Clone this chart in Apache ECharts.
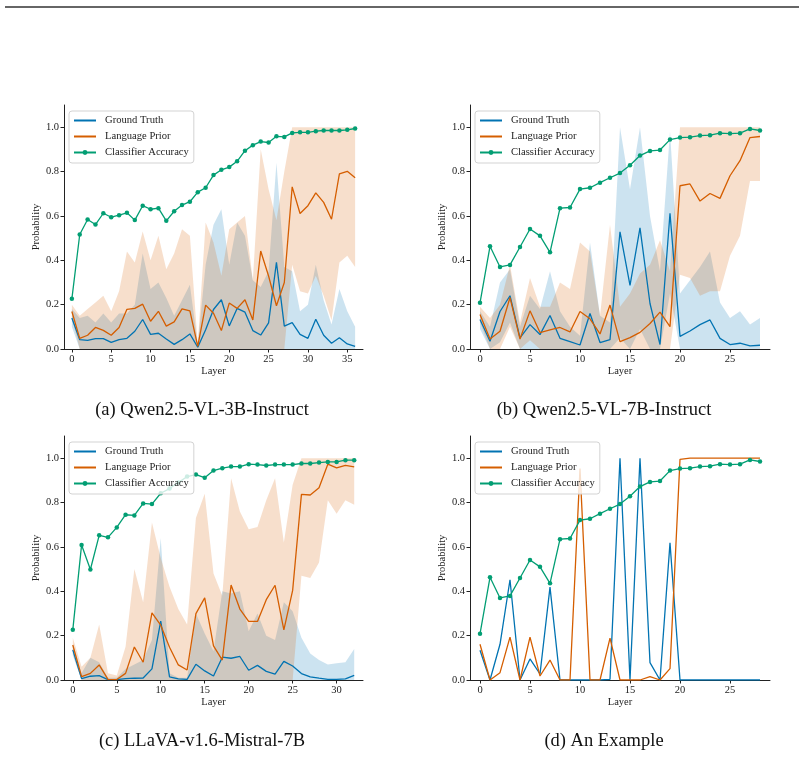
<!DOCTYPE html>
<html>
<head>
<meta charset="utf-8">
<script src="https://cdn.jsdelivr.net/npm/echarts@6/dist/echarts.min.js"></script>
<style>
html, body { margin: 0; padding: 0; background: #fff; }
#chart { width: 804px; height: 757px; }
</style>
</head>
<body>
<div id="chart"></div>
<script>
// ---- data (layer index = position in array) ----
var names = ['Ground Truth', 'Language Prior', 'Classifier Accuracy'];
var captions = ['(a) Qwen2.5-VL-3B-Instruct', '(b) Qwen2.5-VL-7B-Instruct', '(c) LLaVA-v1.6-Mistral-7B', '(d) An Example'];
var yTicks = [0, 0.2, 0.4, 0.6, 0.8, 1.0];
var xTicksA = [0, 5, 10, 15, 20, 25, 30, 35];
var xTicksB = [0, 5, 10, 15, 20, 25];
var xTicksC = [0, 5, 10, 15, 20, 25, 30];

// (a) Qwen2.5-VL-3B
var aAcc = [0.226,0.516,0.584,0.561,0.612,0.594,0.603,0.614,0.581,0.646,0.630,0.635,0.578,0.621,0.649,0.664,0.707,0.727,0.784,0.808,0.820,0.846,0.894,0.919,0.935,0.931,0.959,0.956,0.974,0.977,0.977,0.982,0.985,0.985,0.985,0.988,0.994];
var aGT = [0.140,0.042,0.039,0.047,0.047,0.030,0.042,0.048,0.080,0.133,0.066,0.071,0.045,0.021,0.042,0.068,0.008,0.087,0.178,0.222,0.104,0.183,0.166,0.083,0.063,0.118,0.391,0.103,0.119,0.066,0.048,0.134,0.062,0.026,0.051,0.023,0.012];
var aLP = [0.169,0.048,0.062,0.097,0.084,0.062,0.097,0.179,0.183,0.202,0.125,0.170,0.103,0.122,0.181,0.172,0.012,0.198,0.161,0.083,0.207,0.183,0.222,0.131,0.442,0.329,0.195,0.300,0.731,0.611,0.646,0.704,0.661,0.585,0.789,0.801,0.772];
var aGTlo = [0.10,0,0,0,0,0,0,0,0,0,0,0,0,0,0,0,0,0,0,0,0,0,0,0,0,0,0,0,0,0,0,0,0,0,0,0,0];
var aGThi = [0.18,0.14,0.15,0.12,0.16,0.12,0.16,0.16,0.20,0.43,0.27,0.30,0.23,0.15,0.22,0.29,0.02,0.38,0.56,0.63,0.38,0.57,0.51,0.31,0.28,0.35,0.84,0.37,0.35,0.17,0.20,0.38,0.22,0.11,0.27,0.17,0.10];
var aLPlo = [0.14,0,0,0,0,0,0,0,0,0,0,0,0,0,0,0,0,0,0,0,0,0,0,0,0,0,0,0,0.38,0.26,0.25,0.33,0.24,0.13,0.39,0.42,0.37];
var aLPhi = [0.20,0.15,0.18,0.21,0.24,0.17,0.26,0.44,0.39,0.53,0.40,0.51,0.36,0.43,0.54,0.51,0.02,0.57,0.48,0.33,0.54,0.57,0.60,0.31,0.90,0.72,0.58,0.80,1.0,1.0,1.0,1.0,1.0,1.0,1.0,1.0,1.0];

// (b) Qwen2.5-VL-7B
var bAcc = [0.208,0.463,0.370,0.379,0.460,0.541,0.510,0.436,0.635,0.638,0.721,0.727,0.750,0.772,0.793,0.828,0.872,0.893,0.897,0.944,0.953,0.955,0.962,0.964,0.973,0.971,0.973,0.992,0.985];
var bGT = [0.133,0.035,0.169,0.240,0.050,0.110,0.065,0.151,0.048,0.033,0.018,0.160,0.029,0.042,0.528,0.287,0.546,0.205,0.020,0.612,0.057,0.081,0.110,0.131,0.048,0.020,0.026,0.014,0.017];
var bLP = [0.155,0.045,0.080,0.232,0.045,0.172,0.074,0.086,0.097,0.077,0.169,0.136,0.068,0.198,0.033,0.051,0.075,0.115,0.166,0.101,0.736,0.744,0.667,0.701,0.679,0.781,0.849,0.953,0.958];
var bGTlo = [0.09,0,0.03,0.12,0,0,0,0,0,0,0,0,0,0,0.05,0,0.09,0,0,0.25,0,0,0,0,0,0,0,0,0];
var bGThi = [0.17,0.10,0.30,0.36,0.10,0.24,0.18,0.35,0.17,0.10,0.06,0.48,0.15,0.12,1.0,0.72,1.0,0.60,0.35,0.98,0.25,0.31,0.37,0.44,0.21,0.14,0.17,0.11,0.14];
var bLPlo = [0.12,0,0,0.10,0,0.04,0,0,0,0,0,0,0,0,0,0,0,0,0,0,0.335,0.32,0.24,0.26,0.26,0.42,0.51,0.757,0.757];
var bLPhi = [0.19,0.14,0.20,0.38,0.12,0.32,0.19,0.19,0.30,0.27,0.48,0.44,0.15,0.56,0.19,0.25,0.34,0.38,0.49,0.35,1.0,1.0,1.0,1.0,1.0,1.0,1.0,1.0,1.0];

// (c) LLaVA-v1.6-Mistral-7B
var cAcc = [0.226,0.609,0.498,0.652,0.643,0.688,0.745,0.742,0.796,0.793,0.842,0.863,0.890,0.917,0.926,0.912,0.944,0.955,0.962,0.962,0.973,0.971,0.967,0.971,0.971,0.971,0.976,0.976,0.980,0.983,0.983,0.991,0.991];
var cGT = [0.136,0.006,0.017,0.020,0.002,0.002,0.006,0.008,0.009,0.050,0.265,0.014,0.005,0.003,0.071,0.041,0.018,0.103,0.098,0.106,0.044,0.066,0.039,0.027,0.084,0.063,0.029,0.014,0.008,0.003,0.003,0.005,0.021];
var cLP = [0.158,0.015,0.030,0.068,0.003,0.002,0.030,0.149,0.080,0.303,0.247,0.148,0.068,0.045,0.299,0.370,0.154,0.090,0.428,0.320,0.264,0.264,0.362,0.427,0.226,0.404,0.837,0.834,0.867,0.973,0.956,0.968,0.961];
var cGTlo = [0.11,0,0,0,0,0,0,0,0,0,0,0,0,0,0,0,0,0,0,0,0,0,0,0,0,0,0,0,0,0,0,0,0];
var cGThi = [0.16,0.03,0.10,0.08,0.01,0.01,0.05,0.07,0.09,0.18,0.64,0.03,0.01,0.01,0.30,0.21,0.13,0.40,0.39,0.40,0.22,0.30,0.20,0.18,0.35,0.31,0.19,0.12,0.09,0.07,0.075,0.08,0.14];
var cLPlo = [0.12,0,0,0,0,0,0,0,0,0,0,0,0,0,0,0,0,0,0,0,0,0,0,0,0,0,0.47,0.46,0.53,0.81,0.75,0.81,0.79];
var cLPhi = [0.19,0.06,0.10,0.25,0.03,0.02,0.15,0.50,0.35,0.71,0.55,0.42,0.32,0.25,0.73,0.84,0.48,0.38,0.91,0.76,0.68,0.69,0.81,0.91,0.62,0.88,1.0,1.0,1.0,1.0,1.0,1.0,1.0];

// (d) single example, accuracy curve is the same as (b)
var dAcc = bAcc;
var dGT = [0.134,0,0.161,0.452,0,0.095,0.027,0.419,0,0,0,0,0,0.003,1.0,0,1.0,0.078,0,0.618,0,0,0,0,0,0,0,0,0];
var dLP = [0.161,0,0.033,0.193,0,0.193,0.018,0.090,0,0,0.953,0,0,0.189,0,0,0,0.015,0,0.051,0.995,1.0,1.0,1.0,1.0,1.0,1.0,1.0,1.0];

// ---- style ----
var BLUE = '#0173B2', ORANGE = '#D55E00', GREEN = '#029E73';
var FONT = 'Liberation Serif';
var INK = '#222';

var grids = [
    { left: 64, top: 105, width: 299, height: 244 },
    { left: 470, top: 105, width: 300, height: 244 },
    { left: 64, top: 436, width: 299, height: 244 },
    { left: 470, top: 436, width: 300, height: 244 }
];
var xRanges = [[-1, 37], [-1, 29], [-1, 33], [-1, 29]];
var xTicks = [xTicksA, xTicksB, xTicksC, xTicksB];
var capPos = [[202, 410], [604, 410], [202, 741], [604, 741]];

function pts(arr) {
    return arr.map(function (v, i) { return [i, v]; });
}

// shaded band between lo and hi, one polygon through the axis scales
function band(k, lo, hi, color) {
    return {
        type: 'custom', xAxisIndex: k, yAxisIndex: k, silent: true, z: 1,
        data: lo.map(function (v, i) { return [i, v, hi[i]]; }),
        encode: { x: 0, y: [1, 2] },
        renderItem: function (params, api) {
            if (params.dataIndex !== 0) return;
            var top = [], bot = [];
            for (var i = 0; i < hi.length; i++) {
                top.push(api.coord([i, hi[i]]));
                bot.unshift(api.coord([i, lo[i]]));
            }
            return {
                type: 'polygon',
                shape: { points: top.concat(bot) },
                style: { fill: color }
            };
        }
    };
}

function lines(k, gt, lp, acc) {
    return [
        {
            name: names[0], type: 'line', xAxisIndex: k, yAxisIndex: k,
            data: pts(gt), symbol: 'none', z: 2,
            lineStyle: { color: BLUE, width: 1.3 }, itemStyle: { color: BLUE }
        },
        {
            name: names[1], type: 'line', xAxisIndex: k, yAxisIndex: k,
            data: pts(lp), symbol: 'none', z: 2,
            lineStyle: { color: ORANGE, width: 1.3 }, itemStyle: { color: ORANGE }
        },
        {
            name: names[2], type: 'line', xAxisIndex: k, yAxisIndex: k,
            data: pts(acc), symbol: 'circle', symbolSize: 4.5, z: 3,
            lineStyle: { color: GREEN, width: 1.3 }, itemStyle: { color: GREEN }
        }
    ];
}

var series = [];
var panels = [
    [aGT, aLP, aAcc, aGTlo, aGThi, aLPlo, aLPhi],
    [bGT, bLP, bAcc, bGTlo, bGThi, bLPlo, bLPhi],
    [cGT, cLP, cAcc, cGTlo, cGThi, cLPlo, cLPhi],
    [dGT, dLP, dAcc, null, null, null, null]
];
panels.forEach(function (p, k) {
    if (p[3]) {
        series.push(band(k, p[3], p[4], 'rgba(1,115,178,0.2)'));
        series.push(band(k, p[5], p[6], 'rgba(213,94,0,0.2)'));
    }
    series = series.concat(lines(k, p[0], p[1], p[2]));
});

var xAxes = [], yAxes = [], legends = [], graphics = [];
grids.forEach(function (g, k) {
    xAxes.push({
        gridIndex: k, type: 'value', min: xRanges[k][0], max: xRanges[k][1],
        name: 'Layer', nameLocation: 'middle', nameGap: 16,
        nameTextStyle: { fontFamily: FONT, fontSize: 10.5, color: INK },
        axisLine: { show: true, onZero: false, lineStyle: { color: INK, width: 1 } },
        axisTick: { show: true, length: 3.5, customValues: xTicks[k], lineStyle: { color: INK } },
        axisLabel: { customValues: xTicks[k], margin: 5, fontFamily: FONT, fontSize: 10.5, color: INK },
        splitLine: { show: false }
    });
    yAxes.push({
        gridIndex: k, type: 'value', min: 0, max: 1.1,
        name: 'Probability', nameLocation: 'middle', nameGap: 19,
        nameTextStyle: { fontFamily: FONT, fontSize: 10.5, color: INK },
        axisLine: { show: true, onZero: false, lineStyle: { color: INK, width: 1 } },
        axisTick: { show: true, length: 3.5, customValues: yTicks, lineStyle: { color: INK } },
        axisLabel: {
            customValues: yTicks, margin: 5, fontFamily: FONT, fontSize: 10.5, color: INK,
            formatter: function (v) { return v.toFixed(1); }
        },
        splitLine: { show: false }
    });
    legends.push({
        data: [
            { name: names[0], itemStyle: { opacity: 0 } },
            { name: names[1], itemStyle: { opacity: 0 } },
            { name: names[2] }
        ],
        orient: 'vertical', z: 10,
        left: g.left + 5, top: g.top + 6,
        itemWidth: 22, itemHeight: 6, itemGap: 5,
        padding: [4, 5, 5, 4],
        backgroundColor: 'rgba(255,255,255,0.8)',
        borderColor: '#d3d3d3', borderWidth: 1, borderRadius: 3,
        textStyle: { fontFamily: FONT, fontSize: 10.6, lineHeight: 10, color: INK, padding: [0, 0, 0, 4] },
        selectedMode: false
    });
    graphics.push({
        type: 'text', x: capPos[k][0], y: capPos[k][1],
        style: {
            text: captions[k], textAlign: 'center', textVerticalAlign: 'middle',
            font: '18.5px "Liberation Serif"', fill: '#111'
        }
    });
});

// horizontal rule at the top of the page
graphics.push({
    type: 'line', shape: { x1: 5, y1: 7, x2: 799, y2: 7 },
    style: { stroke: '#333', lineWidth: 1.5 }
});

var myChart = echarts.init(document.getElementById('chart'));
myChart.setOption({
    animation: false,
    backgroundColor: '#fff',
    grid: grids,
    xAxis: xAxes,
    yAxis: yAxes,
    legend: legends,
    graphic: graphics,
    series: series
});
</script>
</body>
</html>
